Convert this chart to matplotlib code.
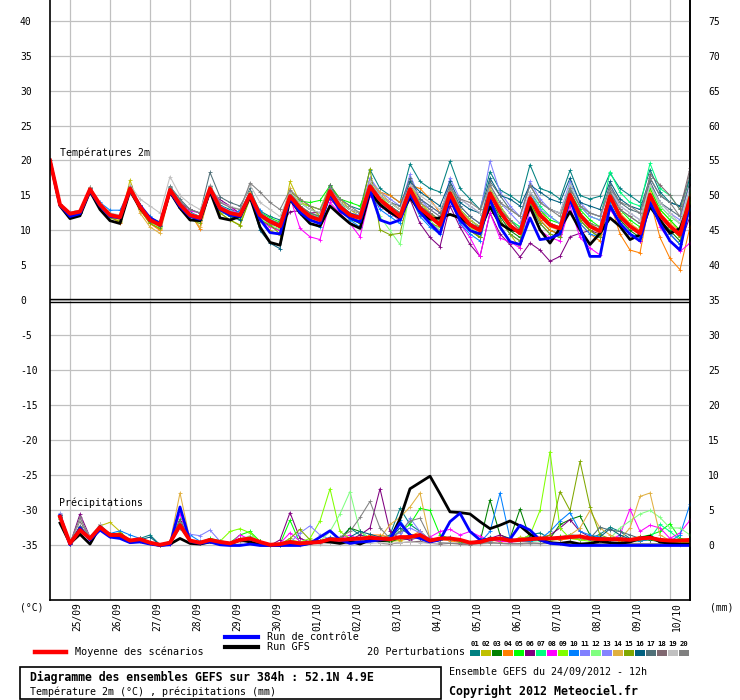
import matplotlib
matplotlib.use("Agg")
import matplotlib.pyplot as plt
import numpy as np
from matplotlib.patches import Rectangle
from matplotlib.lines import Line2D
from matplotlib.transforms import offset_copy, blended_transform_factory

plt.rcParams["font.family"] = ["DejaVu Sans Mono", "DejaVu Sans"]

# ── data: GEFS run 24/09/2012 12h, 52.1N 4.9E, 6-hourly steps ─────────
hours = np.arange(0, 385, 6)
day_labels = ["25/09", "26/09", "27/09", "28/09", "29/09", "30/09", "01/10", "02/10",
              "03/10", "04/10", "05/10", "06/10", "07/10", "08/10", "09/10", "10/10"]
day_hours = [12 + 24 * k for k in range(len(day_labels))]

member_colors = ["#008080", "#C0C000", "#008000", "#FF8000", "#00FF00", "#800080",
                 "#00FF80", "#FF00FF", "#80FF00", "#0080FF", "#8080FF", "#80FF80",
                 "#8484FF", "#E0B040", "#80A800", "#006080", "#507078", "#806870",
                 "#C0C0C0", "#808080"]

# temperature 2m (°C)
t_mean = [20.0,
          13.7, 12.4, 12.7, 15.9, 13.7, 12.2, 11.9, 16.0, 13.4, 11.5, 10.8, 15.8, 13.7, 12.2, 11.8, 16.0,
          13.2, 12.5, 12.2, 15.1, 12.2, 11.3, 10.6, 14.9, 13.2, 12.0, 11.5, 15.6, 13.4, 12.2, 11.8, 16.3,
          14.4, 13.2, 12.0, 15.9, 13.2, 12.0, 10.8, 15.3, 12.5, 10.8, 10.0, 15.3, 12.7, 10.7, 9.6, 14.6,
          12.2, 10.8, 10.3, 15.1, 12.2, 10.6, 9.9, 14.9, 12.0, 10.6, 9.6, 15.1, 12.2, 10.6, 9.4, 14.6]
t_gfs = [20.0,
         13.5, 11.7, 12.1, 15.6, 13.0, 11.4, 11.0, 15.7, 13.2, 11.6, 10.8, 15.5, 13.2, 11.5, 11.4, 15.6,
         11.8, 11.5, 12.0, 14.8, 10.5, 8.3, 7.9, 14.5, 12.5, 11.0, 10.6, 13.5, 12.2, 11.0, 10.3, 15.5,
         13.7, 12.6, 11.8, 14.8, 12.7, 11.6, 11.8, 12.3, 11.8, 10.8, 10.1, 13.4, 11.0, 10.1, 9.9, 13.4,
         10.1, 8.2, 10.3, 12.7, 10.1, 8.0, 9.6, 11.8, 10.6, 8.7, 9.4, 13.4, 11.5, 9.6, 10.3, 14.0]
t_ctrl = [20.0,
          13.6, 12.0, 12.4, 15.7, 13.5, 12.0, 11.8, 15.8, 13.6, 11.8, 11.0, 15.6, 13.4, 12.0, 11.6, 15.8,
          13.0, 12.2, 12.0, 15.0, 11.6, 9.7, 9.5, 14.6, 12.6, 11.5, 11.0, 15.2, 12.8, 11.8, 11.2, 15.8,
          11.5, 11.0, 11.5, 15.2, 12.6, 11.0, 9.5, 14.5, 11.5, 10.0, 9.5, 14.5, 10.5, 8.4, 8.0, 11.8,
          8.7, 8.9, 9.5, 14.5, 10.5, 6.3, 6.3, 13.5, 11.0, 9.5, 8.5, 14.0, 11.0, 8.5, 7.2, 14.0]

t01 = [20.0,
       13.8, 12.5, 12.8, 16.0, 13.8, 12.4, 12.0, 16.2, 13.6, 11.8, 11.0, 16.2, 14.0, 12.6, 12.0, 16.4,
       13.6, 13.0, 12.6, 15.6, 12.8, 12.0, 11.5, 15.5, 14.0, 13.0, 12.5, 16.5, 14.5, 13.5, 13.0, 18.7,
       16.0, 15.0, 14.0, 19.5, 17.0, 16.0, 15.5, 19.9, 16.0, 14.5, 13.0, 18.4, 15.8, 15.0, 14.0, 19.4,
       16.0, 15.5, 14.5, 18.6, 15.0, 14.5, 14.9, 18.2, 16.0, 15.0, 14.0, 18.7, 15.5, 14.0, 13.5, 17.5]
t02 = [20.0,
       13.6, 12.3, 12.6, 16.2, 13.5, 12.0, 11.2, 17.2, 13.0, 11.0, 10.2, 15.5, 13.3, 12.0, 11.5, 15.5,
       12.5, 11.5, 10.8, 14.5, 11.5, 10.0, 9.3, 17.0, 14.0, 13.5, 13.0, 16.5, 14.5, 13.0, 12.0, 17.5,
       15.0, 14.0, 13.0, 17.0, 14.0, 12.5, 11.0, 15.5, 12.0, 10.5, 9.0, 14.5, 11.5, 9.5, 7.5, 15.0,
       13.0, 11.0, 10.0, 14.0, 12.0, 10.5, 10.0, 15.0, 12.5, 11.0, 10.0, 16.0, 13.0, 11.5, 10.0, 15.5]
t03 = [20.0,
       13.6, 12.3, 12.5, 15.8, 13.5, 12.0, 11.6, 15.8, 13.2, 11.3, 10.6, 15.5, 13.4, 12.0, 11.5, 15.6,
       12.8, 12.0, 11.6, 14.6, 11.6, 10.6, 10.0, 14.3, 12.8, 11.5, 11.0, 15.0, 12.8, 11.6, 11.0, 15.5,
       13.5, 12.5, 11.5, 15.0, 12.5, 11.0, 10.0, 14.5, 11.5, 10.0, 9.0, 14.5, 12.0, 10.0, 9.0, 14.0,
       11.5, 10.0, 9.5, 14.5, 11.5, 10.0, 9.0, 14.5, 11.5, 10.0, 9.0, 14.5, 11.5, 10.0, 8.5, 14.0]
t04 = [20.0,
       13.7, 12.4, 12.6, 15.9, 13.6, 12.1, 11.0, 16.2, 13.0, 11.0, 10.0, 15.6, 13.5, 12.5, 10.2, 15.7,
       13.0, 12.2, 12.0, 15.0, 12.0, 11.0, 10.5, 15.5, 13.5, 12.5, 12.0, 16.0, 14.0, 13.0, 12.5, 16.5,
       15.5, 15.0, 14.0, 16.5, 16.0, 14.5, 12.5, 16.5, 13.0, 11.5, 10.5, 15.5, 12.5, 10.5, 9.5, 14.5,
       11.5, 10.0, 9.5, 14.5, 11.0, 9.5, 8.5, 14.0, 9.5, 7.2, 6.8, 14.4, 9.0, 6.0, 4.4, 10.5]
t05 = [20.0,
       13.8, 12.5, 12.8, 16.0, 13.8, 12.3, 12.0, 16.1, 13.5, 11.6, 10.9, 16.0, 13.9, 12.4, 12.0, 16.2,
       13.4, 12.6, 12.3, 15.4, 12.6, 11.8, 11.2, 15.2, 14.2, 14.0, 14.3, 16.4, 14.5, 14.0, 13.5, 16.8,
       15.0, 14.0, 13.0, 16.5, 13.5, 12.5, 11.5, 15.8, 13.0, 11.5, 10.5, 16.0, 13.5, 11.5, 10.5, 15.0,
       13.0, 11.5, 11.0, 15.5, 13.0, 11.5, 10.5, 15.5, 13.0, 11.5, 10.5, 16.0, 13.0, 11.5, 10.0, 15.5]
t06 = [20.0,
       13.7, 12.4, 12.7, 15.8, 13.7, 12.2, 11.9, 15.8, 13.5, 11.6, 11.0, 15.7, 14.0, 13.0, 12.5, 15.8,
       14.4, 13.5, 12.4, 15.0, 12.0, 11.0, 10.5, 12.7, 12.8, 12.5, 12.6, 14.5, 13.0, 12.0, 11.5, 15.0,
       13.5, 12.5, 11.5, 14.5, 11.0, 9.0, 7.7, 13.5, 10.5, 8.0, 6.3, 12.5, 9.5, 8.0, 6.2, 8.2,
       7.2, 5.6, 6.3, 9.1, 9.6, 10.0, 9.5, 13.5, 11.0, 9.5, 8.5, 14.0, 11.0, 9.5, 8.0, 12.0]
t07 = [20.0,
       13.8, 12.5, 12.7, 16.0, 13.7, 12.2, 12.0, 16.0, 13.4, 11.6, 11.0, 15.9, 13.8, 12.4, 11.9, 16.1,
       13.3, 12.6, 12.3, 15.3, 12.3, 11.5, 10.8, 15.0, 13.5, 12.3, 11.8, 16.0, 13.8, 12.5, 12.0, 16.5,
       14.5, 13.5, 12.5, 16.5, 13.5, 12.5, 11.5, 16.0, 13.0, 11.5, 10.5, 16.0, 13.5, 11.5, 10.5, 15.5,
       13.5, 12.0, 11.0, 16.5, 13.5, 12.0, 11.5, 18.4, 15.5, 14.0, 13.5, 19.6, 16.0, 15.0, 13.0, 17.5]
t08 = [20.0,
       13.7, 12.4, 12.7, 15.9, 13.7, 12.2, 11.8, 15.9, 13.4, 11.5, 10.8, 15.8, 13.5, 12.8, 12.5, 16.0,
       14.0, 13.5, 12.0, 15.2, 11.5, 10.5, 10.0, 14.8, 10.3, 9.1, 8.7, 14.0, 12.5, 11.0, 9.1, 15.0,
       13.5, 12.5, 11.5, 15.5, 12.5, 11.0, 10.0, 14.5, 11.0, 9.0, 6.3, 12.5, 8.9, 8.4, 7.5, 13.0,
       10.0, 9.0, 8.5, 13.5, 9.0, 7.5, 6.5, 13.0, 11.0, 9.5, 8.5, 14.5, 10.5, 8.5, 7.0, 8.2]
t09 = [20.0,
       13.7, 12.6, 12.9, 16.1, 13.9, 12.5, 12.0, 16.0, 13.4, 11.2, 10.5, 15.7, 13.6, 12.0, 11.5, 15.8,
       13.0, 12.4, 12.0, 15.0, 12.0, 11.2, 10.4, 14.7, 13.8, 13.5, 13.0, 15.8, 14.0, 13.0, 12.5, 17.0,
       15.0, 13.5, 12.5, 16.5, 14.0, 12.5, 11.0, 15.0, 12.5, 11.0, 10.0, 15.5, 13.0, 11.0, 9.5, 15.0,
       12.5, 11.0, 10.5, 15.5, 12.5, 11.0, 10.0, 15.0, 12.0, 10.5, 9.5, 15.5, 12.0, 10.5, 9.0, 14.0]
t10 = [20.0,
       13.7, 12.5, 12.8, 15.7, 14.0, 12.9, 12.9, 15.8, 13.4, 12.0, 11.0, 15.5, 13.5, 12.0, 11.5, 15.5,
       12.8, 12.0, 12.9, 14.8, 12.9, 11.0, 10.5, 14.5, 12.5, 11.0, 10.5, 15.0, 13.0, 11.5, 10.5, 15.5,
       13.0, 12.0, 11.0, 15.0, 12.0, 10.5, 9.5, 14.5, 11.0, 9.5, 8.5, 14.5, 11.5, 9.5, 8.5, 13.5,
       11.0, 9.5, 9.0, 14.5, 11.0, 9.5, 9.0, 14.0, 11.0, 9.5, 9.0, 14.5, 11.5, 9.5, 8.0, 13.0]
t11 = [20.0,
       13.8, 12.6, 12.9, 16.1, 13.9, 12.4, 12.1, 16.2, 13.6, 11.7, 10.9, 16.0, 14.0, 12.5, 12.0, 16.3,
       13.5, 12.8, 12.5, 15.5, 12.5, 11.6, 11.0, 15.0, 13.5, 12.5, 12.0, 16.0, 14.0, 13.0, 12.5, 17.5,
       15.5, 14.5, 13.5, 17.0, 14.5, 13.0, 12.0, 17.5, 14.5, 13.5, 12.5, 19.9, 15.5, 13.5, 12.0, 17.0,
       14.5, 13.0, 12.5, 17.0, 14.0, 12.5, 12.0, 16.0, 13.0, 12.0, 11.0, 16.5, 13.5, 12.0, 11.0, 16.0]
t12 = [20.0,
       13.6, 12.3, 12.6, 15.7, 13.5, 12.0, 11.7, 15.7, 13.2, 11.3, 10.5, 15.5, 13.4, 11.9, 11.5, 15.6,
       12.9, 12.0, 11.8, 14.7, 11.8, 10.8, 10.2, 14.5, 12.8, 11.6, 11.2, 15.4, 13.2, 12.0, 11.5, 15.8,
       12.0, 10.0, 8.0, 15.5, 13.0, 11.5, 10.0, 15.0, 12.0, 10.5, 9.5, 15.0, 12.5, 10.5, 9.5, 14.5,
       12.5, 11.0, 10.5, 15.0, 12.5, 11.0, 10.0, 15.0, 13.0, 12.0, 11.0, 16.5, 13.5, 12.0, 11.0, 15.5]
t13 = [20.0,
       13.8, 12.6, 12.8, 16.0, 13.8, 12.3, 12.0, 16.1, 13.5, 11.6, 10.9, 15.9, 13.8, 12.3, 11.9, 16.1,
       13.3, 12.6, 12.3, 15.2, 12.4, 11.5, 10.8, 15.0, 13.4, 12.2, 11.7, 15.8, 13.6, 12.5, 12.2, 17.5,
       15.0, 14.0, 13.0, 18.0, 14.5, 13.5, 12.5, 16.5, 13.5, 12.0, 11.0, 16.5, 14.0, 12.5, 11.0, 15.5,
       13.0, 12.0, 11.0, 16.0, 13.5, 12.0, 11.5, 16.5, 13.5, 12.5, 11.5, 17.0, 14.0, 12.5, 11.5, 17.0]
t14 = [20.0,
       13.6, 12.3, 12.6, 15.6, 13.5, 12.0, 11.5, 16.5, 12.5, 10.5, 9.6, 15.3, 13.3, 12.3, 10.5, 15.6,
       12.8, 12.2, 12.0, 15.5, 12.5, 11.5, 11.0, 16.0, 13.5, 12.5, 12.0, 16.0, 14.0, 13.0, 12.5, 17.0,
       15.5, 14.0, 13.0, 16.5, 14.0, 12.5, 11.5, 16.0, 13.0, 11.5, 10.5, 16.0, 13.5, 11.5, 10.0, 15.0,
       12.0, 10.5, 10.0, 14.0, 12.0, 10.5, 9.5, 15.0, 12.5, 11.0, 10.0, 15.5, 12.5, 11.0, 10.0, 15.0]
t15 = [20.0,
       13.6, 12.2, 12.5, 15.7, 13.4, 11.8, 11.3, 15.7, 13.0, 11.0, 10.3, 15.5, 13.2, 11.6, 11.0, 15.5,
       12.5, 11.5, 10.7, 14.7, 11.5, 10.8, 9.5, 15.5, 14.5, 13.5, 12.0, 15.5, 14.0, 13.0, 12.5, 18.8,
       10.1, 9.4, 9.6, 15.5, 12.5, 11.0, 10.5, 15.0, 12.0, 10.0, 9.0, 14.0, 11.5, 9.5, 8.5, 14.0,
       11.0, 9.5, 9.0, 14.5, 11.5, 10.0, 9.0, 14.5, 12.0, 10.5, 9.5, 14.5, 12.0, 10.5, 9.0, 14.5]
t16 = [20.0,
       13.7, 12.4, 12.7, 16.0, 13.6, 12.2, 11.9, 16.0, 13.3, 11.4, 10.6, 15.8, 13.5, 12.0, 11.5, 16.0,
       13.0, 12.0, 11.5, 15.0, 10.0, 8.2, 7.4, 14.8, 13.0, 12.0, 11.5, 15.5, 13.5, 12.5, 12.0, 16.5,
       14.5, 13.5, 12.5, 17.0, 15.5, 14.5, 13.5, 17.0, 14.0, 13.0, 12.5, 17.5, 15.0, 14.5, 13.5, 16.5,
       15.5, 14.5, 14.0, 17.5, 14.0, 13.5, 13.0, 17.0, 14.5, 13.5, 13.0, 17.5, 15.0, 14.0, 13.5, 17.5]
t17 = [20.0,
       13.8, 12.5, 12.8, 16.2, 13.8, 12.4, 12.1, 16.3, 13.7, 11.9, 11.2, 16.3, 14.5, 13.0, 12.5, 18.3,
       14.8, 14.0, 13.5, 16.0, 12.5, 11.5, 11.0, 15.5, 13.5, 12.5, 12.0, 16.5, 14.0, 13.0, 12.5, 17.0,
       15.0, 14.0, 13.5, 17.5, 14.5, 13.5, 12.5, 16.5, 13.5, 12.0, 11.0, 17.0, 15.0, 13.0, 12.0, 16.5,
       14.0, 13.0, 12.5, 16.0, 13.5, 12.5, 12.0, 16.5, 14.0, 13.0, 12.5, 17.0, 14.0, 13.0, 12.0, 17.0]
t18 = [20.0,
       13.7, 12.4, 12.7, 15.9, 13.7, 12.3, 11.9, 16.0, 13.4, 11.5, 10.8, 15.8, 13.7, 12.2, 11.8, 16.0,
       13.2, 12.5, 12.2, 15.0, 12.2, 11.2, 10.5, 14.8, 13.2, 12.0, 11.5, 15.6, 13.5, 12.3, 11.8, 16.5,
       14.5, 13.5, 12.5, 16.0, 13.5, 12.5, 11.5, 15.5, 12.5, 11.0, 10.5, 15.5, 13.0, 11.5, 10.0, 15.0,
       12.5, 11.0, 10.5, 15.5, 12.5, 11.0, 10.5, 15.5, 13.0, 12.0, 11.0, 18.0, 16.5, 15.0, 13.0, 18.9]
t19 = [20.0,
       13.8, 12.6, 12.9, 16.2, 13.9, 12.5, 12.2, 16.5, 14.5, 13.5, 12.5, 17.7, 15.0, 13.8, 13.0, 16.5,
       14.0, 13.5, 13.0, 16.5, 14.0, 13.0, 12.0, 15.5, 14.0, 13.0, 12.5, 16.0, 14.0, 13.0, 12.5, 17.0,
       15.0, 14.0, 13.0, 16.5, 15.0, 14.0, 13.0, 16.0, 14.5, 13.5, 12.5, 16.5, 14.0, 13.0, 12.0, 15.5,
       14.0, 13.0, 12.5, 16.5, 13.5, 12.5, 12.0, 16.0, 13.5, 12.5, 11.5, 16.5, 14.0, 12.5, 11.0, 16.0]
t20 = [20.0,
       13.8, 12.5, 12.8, 16.0, 13.8, 12.4, 12.0, 16.2, 13.6, 11.8, 11.1, 16.2, 14.2, 13.0, 12.5, 16.3,
       14.0, 13.3, 13.0, 16.8, 15.5, 14.0, 13.0, 15.8, 14.5, 13.5, 13.0, 16.0, 14.5, 13.5, 12.5, 16.5,
       14.0, 13.0, 12.0, 16.0, 14.0, 13.0, 12.0, 16.0, 14.5, 14.0, 13.0, 16.5, 14.0, 13.0, 12.0, 16.5,
       14.0, 13.0, 12.0, 16.0, 13.5, 12.5, 12.0, 16.0, 14.0, 13.5, 12.5, 17.5, 15.0, 14.0, 12.0, 18.5]

# precipitation (mm per 6h), from +6h to +384h
p_mean = [4.1, 0.3, 2.2, 1.0, 2.6, 1.5, 1.5, 0.7, 0.9, 0.4, 0.1, 0.4, 2.9, 0.7, 0.4, 0.8,
          0.5, 0.3, 0.8, 1.0, 0.5, 0.1, 0.2, 0.5, 0.3, 0.4, 0.5, 0.9, 0.8, 0.9, 1.0, 1.1,
          1.0, 0.9, 1.2, 1.2, 1.5, 0.7, 1.0, 1.0, 0.8, 0.4, 0.5, 0.9, 1.0, 0.7, 0.8, 0.9,
          1.0, 1.0, 1.1, 1.2, 1.3, 1.0, 0.9, 0.9, 0.9, 0.8, 1.0, 1.1, 0.8, 0.7, 0.7, 0.8]
p_gfs = [3.2, 0.3, 1.6, 0.2, 2.7, 1.4, 1.4, 0.5, 0.6, 0.3, 0.0, 0.2, 1.0, 0.3, 0.2, 0.5,
         0.3, 0.2, 0.8, 0.5, 0.1, 0.0, 0.0, 0.2, 0.1, 0.3, 0.6, 0.5, 0.3, 0.6, 0.2, 0.8,
         0.7, 0.8, 3.8, 8.1, 9.0, 9.9, 7.4, 4.8, 4.7, 4.5, 3.4, 2.4, 2.9, 3.5, 2.8, 1.6,
         0.8, 0.4, 0.3, 0.5, 0.2, 0.3, 0.6, 0.4, 0.3, 0.5, 1.0, 1.3, 0.5, 0.3, 0.2, 0.2]
p_ctrl = [4.3, 0.1, 2.5, 0.8, 2.2, 1.2, 1.0, 0.4, 0.5, 0.2, 0.0, 0.1, 5.5, 0.6, 0.3, 0.5,
          0.1, 0.0, 0.0, 0.2, 0.0, 0.0, 0.0, 0.0, 0.0, 0.3, 1.2, 2.1, 0.8, 0.3, 0.5, 0.6,
          0.8, 1.0, 3.2, 1.5, 1.0, 0.5, 0.8, 3.4, 4.6, 2.0, 0.8, 0.9, 1.0, 0.9, 2.9, 2.2,
          0.8, 0.3, 0.2, 0.0, 0.0, 0.0, 0.0, 0.0, 0.0, 0.0, 0.0, 0.0, 0.0, 0.0, 0.0, 0.0]

p01 = [4.5, 0.2, 2.0, 1.2, 2.8, 1.6, 1.4, 0.8, 1.0, 1.5, 0.1, 0.3, 2.5, 0.6, 0.3, 0.9,
       0.4, 0.2, 0.7, 1.2, 0.4, 0.0, 0.1, 0.3, 0.2, 0.3, 0.4, 0.8, 1.0, 2.5, 1.5, 1.2,
       1.0, 1.5, 5.3, 3.0, 2.0, 0.8, 1.0, 1.2, 0.6, 0.3, 0.5, 1.2, 1.0, 0.6, 0.8, 1.5,
       1.8, 1.0, 1.2, 1.5, 1.4, 1.0, 1.6, 2.6, 2.0, 1.0, 0.8, 1.0, 0.6, 0.5, 0.4, 0.6]
p02 = [4.0, 0.4, 2.4, 1.0, 2.8, 3.3, 2.0, 0.6, 0.8, 0.3, 0.0, 0.3, 3.5, 0.5, 0.4, 0.6,
       0.4, 0.2, 0.9, 0.8, 0.3, 0.1, 0.2, 0.6, 0.4, 0.3, 0.6, 0.9, 0.6, 0.8, 0.7, 0.9,
       0.8, 0.6, 0.7, 1.0, 1.5, 1.0, 0.8, 1.1, 0.5, 0.2, 0.4, 0.6, 0.8, 0.5, 1.2, 1.0,
       0.8, 0.7, 0.9, 1.0, 1.5, 0.9, 0.7, 0.9, 0.8, 0.7, 0.9, 0.9, 0.6, 0.5, 0.7, 0.8]
p03 = [3.8, 0.3, 2.0, 0.9, 2.4, 1.4, 1.8, 0.6, 0.9, 0.4, 0.1, 0.5, 3.2, 0.6, 0.4, 0.7,
       0.5, 0.4, 1.0, 1.1, 0.6, 0.0, 0.1, 0.4, 0.3, 0.4, 0.5, 0.8, 0.7, 2.5, 2.0, 1.0,
       0.6, 0.5, 1.0, 1.5, 1.2, 0.5, 0.8, 0.9, 0.6, 0.4, 0.5, 6.5, 1.5, 1.0, 5.2, 1.0,
       0.8, 1.0, 3.0, 3.7, 4.2, 1.5, 0.8, 0.9, 0.7, 0.6, 0.7, 0.8, 0.5, 0.4, 0.5, 0.5]
p04 = [4.2, 0.2, 2.2, 1.1, 2.5, 1.6, 1.2, 0.9, 0.7, 0.3, 0.0, 0.4, 3.0, 0.8, 0.3, 0.6,
       0.6, 0.3, 0.6, 0.9, 0.5, 0.1, 0.2, 0.6, 0.2, 0.5, 0.4, 0.7, 0.6, 0.5, 0.8, 1.5,
       1.5, 1.2, 0.8, 1.3, 2.0, 0.8, 0.9, 0.7, 0.4, 0.3, 0.8, 0.9, 0.5, 0.6, 0.6, 0.8,
       1.2, 0.9, 0.8, 1.0, 0.9, 0.8, 0.7, 0.8, 0.6, 0.9, 1.3, 1.0, 0.8, 0.6, 0.5, 0.4]
p05 = [4.0, 0.4, 2.6, 1.0, 2.3, 1.5, 1.4, 0.7, 0.8, 0.5, 0.1, 0.6, 3.8, 0.8, 0.5, 1.0,
       0.7, 0.4, 1.5, 2.0, 0.6, 0.1, 0.2, 3.6, 0.3, 0.5, 0.7, 1.0, 0.8, 0.6, 0.5, 0.8,
       1.2, 1.0, 2.0, 3.0, 5.3, 5.0, 1.5, 1.0, 0.5, 0.3, 0.6, 0.8, 1.2, 0.8, 0.6, 0.9,
       0.8, 1.0, 1.3, 1.2, 1.0, 0.9, 0.8, 1.0, 1.0, 0.8, 1.2, 1.5, 2.0, 3.1, 1.0, 0.8]
p06 = [4.4, 0.2, 4.5, 1.2, 2.8, 1.7, 1.6, 0.8, 1.0, 0.4, 0.0, 0.2, 3.5, 0.6, 0.3, 0.7,
       0.4, 0.2, 0.6, 0.8, 0.3, 0.0, 0.8, 4.7, 1.0, 0.5, 0.4, 0.5, 0.6, 0.8, 1.5, 2.5,
       8.1, 2.0, 1.0, 0.8, 1.2, 0.9, 1.0, 0.8, 0.6, 0.4, 0.8, 1.0, 1.5, 0.9, 0.7, 0.6,
       1.0, 1.5, 2.5, 3.7, 2.0, 1.2, 0.9, 0.8, 0.9, 0.8, 1.2, 1.3, 0.9, 0.6, 0.6, 0.7]
p07 = [4.1, 0.3, 2.3, 0.9, 2.6, 1.5, 1.3, 0.6, 1.0, 0.3, 0.0, 0.3, 3.0, 0.7, 0.4, 0.9,
       0.5, 0.3, 0.9, 0.9, 0.5, 0.1, 0.1, 0.3, 0.2, 0.4, 0.6, 1.0, 0.9, 0.8, 0.9, 1.0,
       1.2, 1.0, 1.0, 1.0, 1.2, 0.6, 1.0, 1.0, 0.9, 0.3, 0.5, 0.9, 0.8, 0.7, 0.8, 0.6,
       0.7, 1.0, 1.1, 1.5, 1.2, 0.9, 1.0, 0.8, 0.8, 0.7, 0.9, 1.0, 3.0, 2.0, 0.8, 0.7]
p08 = [4.0, 0.2, 2.0, 0.8, 2.4, 1.3, 1.5, 0.6, 0.8, 0.3, 0.1, 0.3, 4.5, 0.5, 0.3, 0.6,
       0.4, 0.2, 1.5, 0.9, 0.4, 0.1, 0.3, 1.8, 0.6, 0.4, 0.5, 0.8, 1.0, 1.5, 0.8, 1.0,
       0.8, 0.9, 1.1, 1.2, 1.0, 1.2, 2.0, 2.3, 1.5, 2.0, 1.3, 0.8, 0.6, 0.5, 0.6, 0.8,
       0.9, 1.0, 1.1, 1.0, 1.3, 0.9, 1.0, 0.8, 1.5, 5.2, 2.0, 2.9, 2.5, 1.0, 1.8, 3.6]
p09 = [3.9, 0.4, 2.4, 1.1, 2.5, 1.6, 1.7, 0.7, 0.9, 0.4, 0.0, 0.3, 2.8, 0.6, 0.4, 0.7,
       0.6, 2.0, 2.4, 1.8, 0.5, 0.0, 0.2, 0.8, 0.5, 1.0, 3.5, 8.1, 2.0, 1.0, 0.8, 1.2,
       1.0, 0.8, 1.0, 1.2, 1.5, 0.7, 0.9, 1.0, 0.7, 0.5, 0.6, 0.8, 1.0, 0.6, 0.8, 1.5,
       5.0, 13.4, 2.5, 1.0, 0.8, 0.6, 0.8, 0.9, 0.8, 0.6, 0.7, 0.9, 0.6, 0.5, 0.5, 0.6]
p10 = [4.3, 0.3, 2.1, 1.0, 2.4, 1.7, 2.1, 1.5, 1.0, 0.5, 0.1, 0.4, 3.0, 1.5, 0.6, 0.8,
       0.5, 0.2, 0.6, 1.3, 0.5, 0.0, 0.2, 0.5, 0.3, 0.3, 0.5, 1.2, 0.9, 0.7, 0.8, 1.0,
       1.0, 1.2, 3.6, 1.5, 1.2, 0.5, 0.8, 1.0, 0.8, 0.4, 0.4, 2.0, 7.5, 1.0, 0.7, 0.6,
       0.9, 2.0, 3.5, 4.7, 2.0, 1.5, 1.2, 1.0, 1.2, 0.8, 0.6, 0.9, 1.0, 0.6, 1.5, 5.9]
p11 = [4.6, 0.5, 2.2, 1.1, 2.7, 1.6, 1.4, 0.8, 0.9, 0.3, 0.0, 0.3, 2.6, 1.6, 1.4, 2.2,
       0.6, 0.3, 0.7, 0.8, 0.4, 0.0, 0.2, 0.4, 1.8, 2.8, 1.5, 0.9, 0.6, 0.6, 0.8, 1.0,
       1.0, 1.2, 1.8, 2.5, 1.8, 0.8, 1.0, 0.9, 0.7, 0.4, 0.5, 0.7, 0.8, 0.7, 0.9, 0.8,
       0.9, 1.0, 1.0, 1.3, 1.1, 0.8, 0.9, 1.0, 1.0, 0.8, 1.0, 1.2, 0.8, 0.7, 0.6, 0.8]
p12 = [3.9, 0.3, 2.3, 0.9, 2.5, 1.5, 1.3, 0.6, 0.8, 0.4, 0.1, 0.4, 3.1, 0.7, 0.4, 0.8,
       0.4, 0.3, 0.8, 1.4, 0.5, 0.1, 0.2, 0.5, 0.3, 0.4, 0.6, 2.0, 4.5, 7.7, 2.0, 1.0,
       0.9, 0.8, 1.0, 1.2, 1.5, 0.7, 0.9, 0.8, 0.6, 0.4, 0.5, 0.8, 0.9, 0.7, 0.7, 0.8,
       0.9, 0.8, 1.0, 1.2, 1.1, 0.9, 0.8, 1.0, 2.5, 3.5, 4.5, 5.0, 4.0, 2.5, 2.5, 1.5]
p13 = [4.2, 0.3, 2.4, 1.0, 2.6, 1.4, 1.6, 0.7, 0.9, 0.4, 0.0, 0.4, 3.2, 0.7, 0.5, 0.8,
       0.5, 0.3, 0.8, 1.0, 0.5, 0.1, 0.2, 0.5, 0.4, 0.5, 0.6, 0.9, 0.8, 0.8, 0.9, 1.0,
       1.1, 0.9, 1.2, 3.9, 2.0, 0.8, 1.0, 1.0, 0.8, 0.4, 0.5, 0.9, 1.0, 0.7, 0.8, 0.9,
       1.0, 1.0, 1.1, 1.2, 1.4, 1.0, 0.9, 0.9, 0.9, 0.8, 1.0, 1.1, 0.8, 0.7, 0.7, 0.8]
p14 = [4.0, 0.4, 2.2, 1.0, 2.6, 1.5, 1.5, 0.7, 0.9, 0.4, 0.0, 0.4, 7.5, 0.8, 0.4, 0.8,
       0.5, 0.3, 0.8, 1.0, 0.5, 0.1, 0.2, 0.5, 0.3, 0.4, 0.5, 0.9, 0.8, 0.9, 1.0, 1.1,
       1.0, 3.0, 4.0, 5.5, 7.5, 0.8, 1.0, 1.0, 0.8, 0.4, 0.5, 0.9, 1.0, 0.7, 0.8, 0.9,
       1.0, 1.0, 1.1, 1.5, 2.5, 5.0, 2.5, 1.5, 0.9, 2.5, 7.0, 7.5, 1.5, 0.7, 0.7, 0.8]
p15 = [4.1, 0.3, 2.5, 0.9, 2.4, 1.6, 1.8, 0.8, 0.8, 0.3, 0.1, 0.3, 3.0, 0.6, 0.4, 0.7,
       0.4, 0.3, 0.9, 1.1, 0.6, 0.1, 0.2, 1.0, 2.3, 0.8, 0.6, 0.9, 0.8, 1.0, 0.9, 1.0,
       1.0, 0.8, 1.1, 1.2, 1.5, 0.8, 0.9, 1.0, 0.7, 0.4, 0.5, 0.9, 1.0, 0.7, 0.8, 0.9,
       1.0, 1.5, 7.7, 5.0, 12.0, 5.5, 1.5, 1.0, 0.8, 0.7, 0.9, 1.0, 0.7, 0.6, 0.6, 0.7]
p16 = [4.4, 0.2, 2.7, 1.0, 2.5, 1.4, 1.4, 0.7, 0.8, 1.2, 0.1, 0.4, 3.0, 0.7, 0.5, 0.8,
       0.5, 0.3, 0.7, 1.0, 0.4, 0.1, 0.2, 0.5, 0.3, 0.4, 0.5, 0.9, 0.8, 1.2, 2.0, 1.6,
       1.2, 1.0, 2.5, 1.5, 1.0, 0.7, 1.0, 1.0, 0.8, 0.4, 0.5, 0.9, 1.0, 0.7, 0.8, 1.2,
       1.0, 1.0, 1.1, 1.2, 1.3, 1.0, 1.2, 2.4, 1.5, 0.9, 1.0, 1.1, 0.8, 0.7, 0.7, 0.8]
p17 = [4.0, 0.3, 2.8, 1.1, 2.7, 1.5, 1.3, 0.6, 0.9, 0.5, 0.0, 0.3, 3.3, 0.7, 0.4, 0.8,
       0.5, 0.3, 0.8, 1.0, 0.5, 0.1, 0.2, 0.5, 0.3, 0.4, 0.5, 0.9, 0.8, 0.9, 1.0, 1.1,
       1.0, 0.9, 1.2, 1.2, 1.5, 0.7, 1.0, 1.0, 0.8, 0.4, 0.5, 0.9, 1.0, 0.7, 0.8, 0.9,
       1.0, 1.0, 1.1, 1.2, 1.3, 1.0, 2.6, 2.2, 2.0, 1.5, 1.0, 1.1, 0.8, 0.7, 0.7, 0.8]
p18 = [4.3, 0.4, 3.5, 1.0, 3.0, 1.6, 1.5, 0.8, 1.0, 0.4, 0.0, 0.4, 3.0, 0.7, 0.4, 0.8,
       0.5, 0.3, 0.8, 1.0, 0.5, 0.1, 0.2, 0.5, 0.3, 0.4, 0.5, 0.9, 0.8, 0.9, 1.0, 1.1,
       0.3, 0.2, 0.4, 0.5, 0.6, 0.3, 0.2, 0.3, 0.2, 0.1, 0.3, 0.4, 0.3, 0.2, 0.2, 0.3,
       0.3, 0.4, 0.3, 0.2, 0.3, 0.2, 0.2, 0.3, 0.3, 0.2, 0.2, 0.3, 0.2, 0.1, 0.2, 0.3]
p19 = [4.5, 0.3, 3.8, 1.2, 3.0, 1.5, 1.4, 0.8, 0.9, 0.4, 0.0, 0.4, 2.8, 0.6, 0.4, 0.7,
       0.3, 0.2, 0.4, 0.6, 0.2, 0.0, 0.1, 0.2, 0.1, 0.2, 0.2, 0.3, 0.2, 0.2, 0.3, 0.3,
       0.4, 0.3, 0.4, 0.5, 0.4, 0.3, 0.3, 0.4, 0.3, 0.2, 0.2, 0.3, 0.3, 0.2, 0.2, 0.2,
       0.2, 0.3, 0.3, 0.2, 0.2, 0.2, 0.2, 0.3, 0.3, 0.2, 0.2, 0.2, 0.2, 0.1, 0.1, 0.2]
p20 = [4.2, 0.3, 4.0, 1.0, 2.6, 1.4, 1.5, 0.7, 0.8, 0.3, 0.0, 0.3, 3.4, 0.6, 0.4, 0.6,
       0.4, 0.3, 0.7, 0.9, 0.4, 0.0, 0.1, 0.3, 0.3, 0.4, 0.5, 0.8, 1.2, 2.0, 4.0, 6.3,
       2.5, 1.0, 2.0, 3.5, 3.9, 1.0, 0.4, 0.3, 0.3, 0.2, 0.3, 0.4, 0.3, 0.3, 0.3, 0.4,
       0.3, 0.3, 0.4, 0.3, 0.3, 0.2, 0.3, 0.3, 0.2, 0.3, 0.3, 0.2, 0.3, 0.2, 0.2, 0.2]

temp_members = [t01, t02, t03, t04, t05, t06, t07, t08, t09, t10,
                t11, t12, t13, t14, t15, t16, t17, t18, t19, t20]
prec_members = [p01, p02, p03, p04, p05, p06, p07, p08, p09, p10,
                p11, p12, p13, p14, p15, p16, p17, p18, p19, p20]

PREC_OFFSET = 35          # precipitation 0 mm sits on -35 of the temperature scale
left_ticks = list(range(40, -40, -5))
right_ticks = list(range(0, 80, 5))

# ── figure (pixel layout of the original 740x700 image) ──────────────
W, H = 740, 700
fig = plt.figure(figsize=(W / 100, H / 100), dpi=100)


def fx(x):
    return x / W


def fy(y):
    return 1 - y / H


ax = fig.add_axes([fx(50), fy(600), 640 / W, 600 / H])
ax.set_xlim(0, 384)
ax.set_ylim(-42.79, 42.93)
ax.set_axisbelow(True)

ax.set_xticks(day_hours)
ax.set_xticklabels([])
ax.set_yticks(left_ticks)
ax.set_yticklabels([str(v) for v in left_ticks])
plt.setp(ax.get_yticklabels(), ha="left")
ax.tick_params(axis="both", length=0, labelsize=7)
ax.tick_params(axis="y", pad=21.6)
ax.grid(True, color="#C0C0C0", linewidth=0.9)

for side in ("left", "right", "bottom"):
    ax.spines[side].set_linewidth(1.2)
ax.spines["top"].set_visible(False)

sec = ax.secondary_yaxis("right", functions=(lambda v: v + PREC_OFFSET, lambda v: v - PREC_OFFSET))
sec.set_yticks(right_ticks)
sec.set_yticklabels([str(v) for v in right_ticks])
sec.tick_params(length=0, labelsize=7, pad=13)
sec.spines["right"].set_linewidth(1.2)

# separator between the two panels (double line)
ax.axhline(0.16, color="black", linewidth=1.0)
ax.axhline(-0.16, color="black", linewidth=1.0)

# ensemble members
for temps, precs, color in zip(temp_members, prec_members, member_colors):
    ax.plot(hours, temps, color=color, linewidth=0.75, marker="+", markersize=3,
            markeredgewidth=0.6)
    ax.plot(hours[1:], np.array(precs) - PREC_OFFSET, color=color, linewidth=0.75,
            marker="+", markersize=3, markeredgewidth=0.6)

ax.plot(hours, t_gfs, color="black", linewidth=2.0)
ax.plot(hours[1:], np.array(p_gfs) - PREC_OFFSET, color="black", linewidth=2.0)
ax.plot(hours, t_ctrl, color="#0000FF", linewidth=2.0)
ax.plot(hours[1:], np.array(p_ctrl) - PREC_OFFSET, color="#0000FF", linewidth=2.0)
ax.plot(hours, t_mean, color="#FF0000", linewidth=2.8)
ax.plot(hours[1:], np.array(p_mean) - PREC_OFFSET, color="#FF0000", linewidth=2.8)

# date labels, rotated, a little right of each midnight line
date_tr = offset_copy(blended_transform_factory(ax.transData, ax.transAxes),
                      fig=fig, x=7, y=-2, units="dots")
for h, lbl in zip(day_hours, day_labels):
    ax.text(h, 0, lbl, transform=date_tr, rotation=90, ha="center", va="top", fontsize=6.9)

# panel titles and units
fig.text(fx(60), fy(152.7), "Températures 2m", fontsize=7.1, va="center")
fig.text(fx(59), fy(502.7), "Précipitations", fontsize=7.1, va="center")
fig.text(fx(20), fy(607), "(°C)", fontsize=7, va="center")
fig.text(fx(710), fy(607), "(mm)", fontsize=7, va="center")

# legend
fig.add_artist(Line2D([fx(35), fx(66)], [fy(652), fy(652)], color="#FF0000", linewidth=3.2))
fig.text(fx(75), fy(652), "Moyenne des scénarios", fontsize=7.3, va="center")
fig.add_artist(Line2D([fx(225), fx(258)], [fy(636.7), fy(636.7)], color="#0000FF", linewidth=3.0))
fig.add_artist(Line2D([fx(225), fx(258)], [fy(646.7), fy(646.7)], color="black", linewidth=3.0))
fig.text(fx(267), fy(637), "Run de contrôle", fontsize=7.3, va="center")
fig.text(fx(267), fy(647.5), "Run GFS", fontsize=7.3, va="center")
fig.text(fx(465), fy(652), "20 Perturbations", fontsize=7.3, va="center", ha="right")
for k, color in enumerate(member_colors):
    x0 = 470 + 11 * k
    fig.add_artist(Rectangle((fx(x0), fy(656)), 10 / W, 6 / H, transform=fig.transFigure,
                             facecolor=color, edgecolor="none"))
    fig.text(fx(x0 + 5), fy(644.3), f"{k + 1:02d}", fontsize=5.2, fontweight="bold",
             ha="center", va="center")

# title box
fig.add_artist(Rectangle((fx(20), fy(699)), 420.7 / W, 32 / H, transform=fig.transFigure,
                         fill=False, edgecolor="black", linewidth=1.2))
fig.text(fx(30), fy(677.3), "Diagramme des ensembles GEFS sur 384h : 52.1N 4.9E",
         fontsize=8.3, fontweight="bold", va="center")
fig.text(fx(30), fy(691.7), "Température 2m (°C) , précipitations (mm)",
         fontsize=7.2, va="center")
fig.text(fx(449), fy(672.5), "Ensemble GEFS du 24/09/2012 - 12h", fontsize=7.2, va="center")
fig.text(fx(449), fy(691.7), "Copyright 2012 Meteociel.fr", fontsize=8.4,
         fontweight="bold", va="center")

fig.savefig("out.png", dpi=100)
